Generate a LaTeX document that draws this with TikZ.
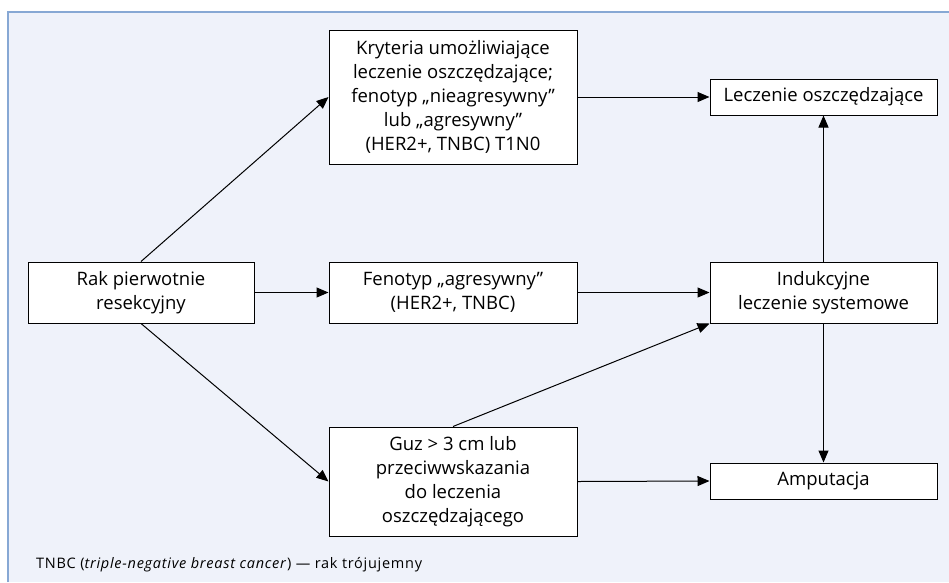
\documentclass[tikz,border=0pt]{standalone}
\usepackage{fontspec}
\setmainfont{Open Sans}
\newfontfamily\notefont[LetterSpace=5]{Open Sans}
\usetikzlibrary{arrows.meta}
\definecolor{panelbg}{RGB}{239,242,250}
\definecolor{panelrule}{RGB}{135,168,212}
\begin{document}
\begin{tikzpicture}[x=1pt,y=-1pt,
  box/.style={draw=black,fill=white,line width=1pt,align=center,inner sep=0pt,
    font=\fontsize{18.5}{24}\selectfont},
  link/.style={line width=1pt,-{Triangle[length=12pt,width=10pt]}}]
\useasboundingbox (0,0) rectangle (949,582);
% panel: tinted background with a rule along its top and left edges
\fill[panelbg] (8,12) rectangle (949,582);
\draw[panelrule,line width=1.2pt] (8,582) -- (8,12) -- (949,12);

\node[box,minimum width=248pt,minimum height=134pt] (kryt) at (453,97)
  {Kryteria umożliwiające\\leczenie oszczędzające;\\fenotyp „nieagresywny”\\lub „agresywny”\\(HER2+, TNBC) T1N0};
\node[box,minimum width=227pt,minimum height=36pt] (lecz) at (823.5,97)
  {Leczenie oszczędzające};
\node[box,minimum width=226pt,minimum height=61pt] (rak) at (141,292.5)
  {Rak pierwotnie\\resekcyjny};
\node[box,minimum width=248pt,minimum height=61pt] (feno) at (453,292.5)
  {Fenotyp „agresywny”\\(HER2+, TNBC)};
\node[box,minimum width=227pt,minimum height=61pt] (indu) at (823.5,292.5)
  {Indukcyjne\\leczenie systemowe};
\node[box,minimum width=248pt,minimum height=109pt] (guz) at (453,481.5)
  {Guz > 3 cm lub\\przeciwwskazania\\do leczenia\\oszczędzającego};
\node[box,minimum width=227pt,minimum height=36pt] (amp) at (823.5,481)
  {Amputacja};

\draw[link] (rak.north) -- (kryt.west);
\draw[link] (rak.east) -- (feno.west);
\draw[link] (rak.south) -- (guz.west);
\draw[link] (kryt.east) -- (lecz.west);
\draw[link] (feno.east) -- (indu.west);
\draw[link] (guz.north) -- (indu.south west);
\draw[link] (guz.east) -- (amp.west);
\draw[link] (indu.north) -- (lecz.south);
\draw[link] (indu.south) -- (amp.north);

\node[anchor=west,inner sep=0pt,font=\notefont\fontsize{14.5}{16}\selectfont] (note) at (36,565)
  {TNBC (\textit{triple-negative breast cancer}) — rak trójujemny};
\end{tikzpicture}
\end{document}
